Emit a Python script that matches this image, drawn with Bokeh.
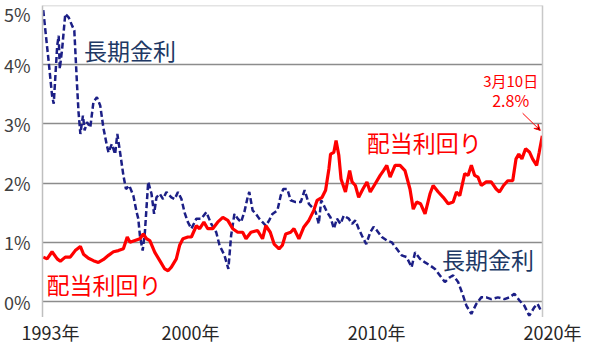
from bokeh.plotting import figure
from bokeh.layouts import column
from bokeh.models import (FixedTicker, LinearAxis, Label, Span, Arrow, VeeHead, Range1d)
from bokeh.core.properties import value
from bokeh.embed import file_html
from bokeh.resources import INLINE

# 長期金利 (10-year JGB yield, %)
jgb_year = [1993.04, 1993.34, 1993.52, 1993.61, 1993.80, 1993.88, 1993.94, 1994.07, 1994.24, 1994.42,
            1994.61, 1994.73, 1994.88, 1994.96, 1995.06, 1995.20, 1995.29, 1995.42, 1995.60, 1995.77,
            1995.96, 1996.14, 1996.32, 1996.50, 1996.59, 1996.77, 1996.95, 1997.07, 1997.22, 1997.40,
            1997.54, 1997.72, 1997.94, 1998.12, 1998.21, 1998.30, 1998.45, 1998.57, 1998.75, 1998.93,
            1999.07, 1999.20, 1999.38, 1999.56, 1999.74, 2000.01, 2000.19, 2000.37, 2000.56, 2000.73,
            2000.91, 2001.10, 2001.37, 2001.64, 2001.91, 2002.18, 2002.45, 2002.63, 2002.90, 2003.11,
            2003.26, 2003.44, 2003.62, 2003.80, 2003.98, 2004.16, 2004.25, 2004.43, 2004.61, 2004.79,
            2004.97, 2005.15, 2005.33, 2005.51, 2005.78, 2005.96, 2006.10, 2006.32, 2006.50, 2006.77,
            2007.05, 2007.26, 2007.49, 2007.67, 2007.86, 2008.03, 2008.16, 2008.31, 2008.48, 2008.67,
            2008.85, 2009.02, 2009.21, 2009.39, 2009.66, 2009.84, 2010.02, 2010.20, 2010.38, 2010.61,
            2010.83, 2011.01, 2011.19, 2011.46, 2011.73, 2012.00, 2012.27, 2012.54, 2012.81, 2013.08,
            2013.27, 2013.54, 2013.81, 2014.08, 2014.35, 2014.62, 2014.89, 2015.16, 2015.34, 2015.61,
            2015.88, 2016.06, 2016.33, 2016.60, 2016.87, 2017.14, 2017.41, 2017.77, 2018.13, 2018.40,
            2018.67, 2018.94, 2019.21, 2019.48, 2019.75, 2019.93, 2020.11]
jgb_rate = [4.92, 4.04, 3.48, 3.34, 4.32, 4.49, 3.93, 4.27, 4.86, 4.80,
            4.66, 4.58, 3.65, 3.20, 2.83, 3.14, 2.89, 3.03, 2.94, 3.37,
            3.45, 3.31, 2.92, 2.64, 2.52, 2.66, 2.49, 2.83, 2.52, 2.13,
            1.90, 1.96, 1.79, 1.51, 1.40, 1.11, 0.86, 1.17, 2.02, 1.82,
            1.48, 1.76, 1.82, 1.73, 1.85, 1.76, 1.73, 1.85, 1.73, 1.50,
            1.34, 1.23, 1.40, 1.40, 1.51, 1.31, 1.17, 0.95, 0.78, 0.55,
            1.11, 1.48, 1.40, 1.34, 1.51, 1.76, 1.85, 1.54, 1.48, 1.40,
            1.34, 1.28, 1.37, 1.48, 1.54, 1.79, 1.90, 1.90, 1.71, 1.68,
            1.68, 1.88, 1.65, 1.59, 1.51, 1.31, 1.71, 1.62, 1.51, 1.42,
            1.23, 1.40, 1.31, 1.45, 1.40, 1.31, 1.37, 1.23, 1.11, 0.97,
            1.17, 1.26, 1.20, 1.09, 1.03, 1.00, 0.89, 0.78, 0.75, 0.58,
            0.83, 0.72, 0.66, 0.61, 0.55, 0.44, 0.33, 0.41, 0.44, 0.33,
            0.10, -0.07, -0.21, -0.04, 0.07, 0.07, 0.04, 0.07, 0.04, 0.07,
            0.13, 0.02, -0.07, -0.24, -0.10, -0.04, -0.15]

# 配当利回り (dividend yield, %)
div_year = [1993.04, 1993.25, 1993.52, 1993.80, 1993.97, 1994.24, 1994.51, 1994.78, 1995.06, 1995.23,
            1995.50, 1995.77, 1996.04, 1996.32, 1996.59, 1996.86, 1997.13, 1997.40, 1997.61, 1997.76,
            1998.03, 1998.30, 1998.48, 1998.66, 1998.84, 1999.11, 1999.38, 1999.65, 1999.83, 2000.01,
            2000.28, 2000.46, 2000.64, 2000.91, 2001.10, 2001.37, 2001.55, 2001.78, 2001.99, 2002.26,
            2002.53, 2002.81, 2003.08, 2003.35, 2003.62, 2003.89, 2004.07, 2004.34, 2004.70, 2004.97,
            2005.15, 2005.39, 2005.60, 2005.87, 2006.05, 2006.23, 2006.50, 2006.68, 2006.95, 2007.22,
            2007.49, 2007.76, 2007.94, 2008.21, 2008.40, 2008.58, 2008.67, 2008.85, 2008.97, 2009.12,
            2009.24, 2009.48, 2009.71, 2009.84, 2010.02, 2010.20, 2010.43, 2010.65, 2010.83, 2011.10,
            2011.37, 2011.55, 2011.73, 2011.91, 2012.18, 2012.45, 2012.72, 2012.99, 2013.17, 2013.35,
            2013.57, 2013.81, 2014.08, 2014.25, 2014.53, 2014.80, 2015.07, 2015.34, 2015.52, 2015.70,
            2015.97, 2016.15, 2016.33, 2016.51, 2016.69, 2016.87, 2017.14, 2017.41, 2017.68, 2017.86,
            2018.08, 2018.31, 2018.58, 2018.76, 2018.91, 2019.08, 2019.28, 2019.50, 2019.66, 2019.88,
            2020.02, 2020.19]
div_rate = [0.75, 0.72, 0.84, 0.72, 0.68, 0.75, 0.75, 0.86, 0.93, 0.80,
            0.73, 0.69, 0.66, 0.71, 0.78, 0.84, 0.86, 0.89, 1.09, 1.00,
            1.03, 1.06, 1.14, 1.06, 1.03, 0.83, 0.69, 0.55, 0.52, 0.58,
            0.72, 0.95, 1.06, 1.09, 1.09, 1.28, 1.23, 1.34, 1.23, 1.23,
            1.34, 1.42, 1.37, 1.23, 1.17, 1.17, 1.06, 1.17, 1.20, 1.06,
            1.28, 1.17, 0.97, 0.89, 0.95, 1.14, 1.17, 1.23, 1.06, 1.26,
            1.37, 1.54, 1.71, 1.76, 1.88, 2.24, 2.49, 2.52, 2.72, 2.47,
            2.07, 1.85, 2.21, 2.02, 1.96, 1.76, 1.90, 2.02, 1.85, 1.99,
            2.13, 2.21, 2.30, 2.10, 2.30, 2.30, 2.21, 1.90, 1.56, 1.68,
            1.65, 1.48, 1.82, 1.96, 1.85, 1.76, 1.65, 1.68, 1.85, 1.79,
            2.16, 2.13, 2.30, 2.13, 2.10, 1.96, 2.02, 2.02, 1.90, 1.85,
            1.96, 2.04, 2.04, 2.41, 2.49, 2.41, 2.58, 2.52, 2.41, 2.30,
            2.52, 2.80]

y_ticks = [0, 1, 2, 3, 4, 5]
y_tick_labels = {0: "0%", 1: "1%", 2: "2%", 3: "3%", 4: "4%", 5: "5%"}
x_tick_labels = ["1993年", "2000年", "2010年", "2020年"]
x_label_pos = [1993.59, 2001.17, 2011.23, 2020.74]

NAVY_LINE = "#1c1f86"
NAVY_TEXT = "#203864"
RED = "#ff0000"
JP = "Noto Sans CJK JP"

W = 584
BL, BR, BT = 39, 42, 5
X0, X1 = 1993.0, 2020.2

p = figure(width=W, height=317, output_backend="svg", toolbar_location=None,
           x_range=Range1d(X0, X1), y_range=Range1d(-0.27, 5.0),
           min_border_left=BL, min_border_right=BR, min_border_top=BT, min_border_bottom=0,
           background_fill_color="white", border_fill_color="white")
p.frame_align = False
p.outline_line_color = None
p.xaxis.visible = False
p.xgrid.visible = False

p.yaxis.ticker = FixedTicker(ticks=y_ticks)
p.yaxis.major_label_overrides = y_tick_labels
p.yaxis.major_tick_line_color = None
p.yaxis.minor_tick_line_color = None
p.yaxis.major_tick_out = 0
p.yaxis.major_label_standoff = 12
p.yaxis.axis_line_color = "#bfbfbf"
p.yaxis.axis_line_width = 1.5
p.yaxis.major_label_text_font = JP
p.yaxis.major_label_text_font_size = "18px"
p.yaxis.major_label_text_color = "#404040"

p.ygrid.ticker = FixedTicker(ticks=[0, 1, 2, 3, 4])
p.ygrid.grid_line_color = "#8c8c8c"
p.ygrid.grid_line_width = 1.5

right_axis = LinearAxis(ticker=FixedTicker(ticks=[]), major_tick_line_color=None,
                        minor_tick_line_color=None, major_label_text_font_size="0px",
                        axis_line_color="#c8c8c8", axis_line_width=1.5)
p.add_layout(right_axis, "right")
p.add_layout(Span(location=5, dimension="width", line_color="#c8c8c8", line_width=1.5))

p.line(jgb_year, jgb_rate, line_color=NAVY_LINE, line_width=2.5, line_dash="6 3")
p.line(div_year, div_rate, line_color=RED, line_width=3.2)


def jp_label(x, y, text, color, size):
    p.add_layout(Label(x=x, y=y, text=text, text_align="center", text_baseline="middle",
                       text_font=JP, text_font_size=size, text_color=color))


jp_label(1997.76, 4.245, "長期金利", NAVY_TEXT, "23px")
jp_label(2017.23, 0.715, "長期金利", NAVY_TEXT, "23px")
jp_label(1996.35, 0.29, "配当利回り", RED, "23px")
jp_label(2013.77, 2.69, "配当利回り", RED, "23px")
jp_label(2018.47, 3.74, "3月10日", RED, "15px")
jp_label(2018.47, 3.40, "2.8%", RED, "16px")

p.add_layout(Arrow(x_start=2019.12, y_start=3.18, x_end=2020.08, y_end=2.89,
                   line_color=RED, line_width=1,
                   end=VeeHead(size=6, line_color=RED, line_width=1)))

# strip below the plot for the year labels, sharing the same x scale
per_px = (X1 - X0) / (W - BL - BR)
q = figure(width=W, height=27, output_backend="svg", toolbar_location=None,
           x_range=Range1d(X0 - BL * per_px, X1 + BR * per_px), y_range=Range1d(0, 1),
           x_axis_location=None, y_axis_location=None,
           min_border_left=0, min_border_right=0, min_border_top=0, min_border_bottom=0,
           background_fill_color="white", border_fill_color="white")
q.frame_align = False
q.outline_line_color = None
q.grid.visible = False
q.text(x=x_label_pos, y=[0.48] * len(x_label_pos), text=x_tick_labels,
       text_align="center", text_baseline="middle", text_font=value(JP),
       text_font_size="18px", text_color="#262626")

layout = column(p, q, spacing=0)
open("out.html", "w").write(file_html(layout, INLINE))
